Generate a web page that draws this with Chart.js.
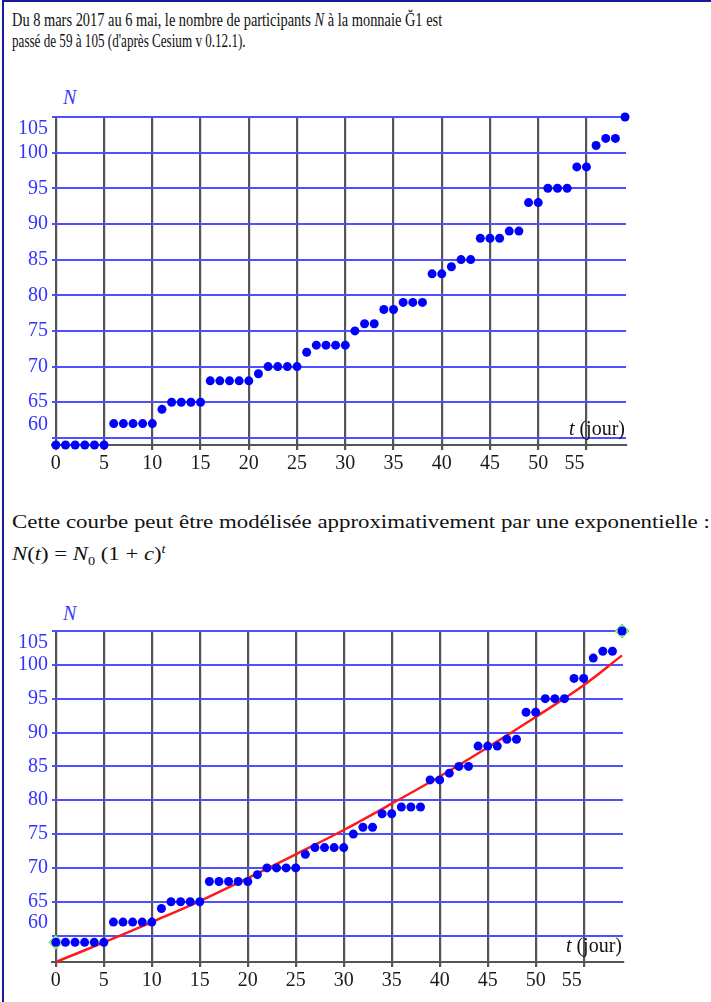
<!DOCTYPE html>
<html>
<head>
<meta charset="utf-8">
<script src="https://cdn.jsdelivr.net/npm/chart.js@4.4.1/dist/chart.umd.min.js"></script>
<style>
  body { margin: 0; background: #fff; }
  #page { position: relative; width: 711px; height: 1002px; overflow: hidden; background: #fff;
          font-family: "Liberation Serif", "Times New Roman", serif; color: #111; }
  .frame-l { position: absolute; left: 2px; top: 0; width: 2px; height: 1002px; background: #1a1a96; }
  .frame-t { position: absolute; left: 2px; top: 0; width: 709px; height: 2px; background: #1a1a96; }
  .line { position: absolute; left: 12px; font-size: 19px; line-height: 22px; white-space: nowrap; transform-origin: 0 0; }
  .lbl { position: absolute; font-size: 20px; line-height: 20px; white-space: nowrap; }
  .axN { color: #3b3bff; font-style: italic; left: 63px; }
  .axT { color: #111; }
  canvas { position: absolute; left: 0; }
</style>
</head>
<body>
<div id="page">
  <div class="frame-l"></div>
  <div class="frame-t"></div>

  <div class="line" data-w="430" style="top:9px">Du 8 mars 2017 au 6 mai, le nombre de participants <i>N</i> à la monnaie Ğ1 est</div>
  <div class="line" data-w="234" style="top:30px">passé de 59 à 105 (d'après Cesium v 0.12.1).</div>

  <div class="lbl axN" style="top:87px">N</div>
  <canvas id="chartRaw" width="640" height="380" style="top:100px"></canvas>
  <div class="lbl axT" style="top:418px;right:86px"><i>t</i> (jour)</div>

  <div class="line" data-w="698" style="top:511px">Cette courbe peut être modélisée approximativement par une exponentielle :</div>
  <div class="line" data-w="153" style="top:538px"><i>N</i>(<i>t</i>) = <i>N</i><sub style="font-size:12px">0</sub> (1 + <i>c</i>)<sup style="font-size:12px"><i>t</i></sup></div>

  <div class="lbl axN" style="top:603px">N</div>
  <canvas id="chartFit" width="640" height="385" style="top:615px"></canvas>
  <div class="lbl axT" style="top:935px;right:89px"><i>t</i> (jour)</div>
</div>

<script>
// participants N, one value per day t = 0 .. 59
const participants = [59, 59, 59, 59, 59, 59, 62, 62, 62, 62,
                      62, 64, 65, 65, 65, 65, 68, 68, 68, 68,
                      68, 69, 70, 70, 70, 70, 72, 73, 73, 73,
                      73, 75, 76, 76, 78, 78, 79, 79, 79, 83,
                      83, 84, 85, 85, 88, 88, 88, 89, 89, 93,
                      93, 95, 95, 95, 98, 98, 101, 102, 102, 105];

// red model curve, read at a few days
const fitT = [0, 5, 10, 15, 20, 25, 30, 35, 40, 45, 50, 55, 59];
const fitN = [56.1, 59.0, 62.0, 65.1, 68.5, 72.0, 75.6, 79.5, 83.5, 87.8, 92.3, 97.0, 101.4];

// green markers (first and last day)
const markT = [0, 59];
const markN = [59, 105];

const xTicks = [0, 5, 10, 15, 20, 25, 30, 35, 40, 45, 50, 55];
const yTicks = [60, 65, 70, 75, 80, 85, 90, 95, 100, 105];

const SERIF = '"Liberation Serif", "Times New Roman", serif';

// fit paragraph lines to the width they take in the picture
document.querySelectorAll('.line[data-w]').forEach(el => {
  const w = el.offsetWidth;
  el.style.transform = 'scaleX(' + (Number(el.dataset.w) / w) + ')';
});

// tick labels drawn by hand so a few can be nudged like in the picture
const yLabelShift = { 105: 12, 60: -13 };
const xLabelShift = { 55: -12 };

const tickText = {
  id: 'tickText',
  afterDraw(chart) {
    const ctx = chart.ctx, xs = chart.scales.x, ys = chart.scales.y;
    ctx.save();
    ctx.font = '20px ' + SERIF;
    ctx.textBaseline = 'middle';
    ctx.fillStyle = '#3333ff';
    ctx.textAlign = 'right';
    yTicks.forEach(v => ctx.fillText(String(v), xs.left - 4, ys.getPixelForValue(v) + (yLabelShift[v] || 0)));
    ctx.fillStyle = '#1a1a1a';
    ctx.textAlign = 'center';
    xTicks.forEach(v => ctx.fillText(String(v), xs.getPixelForValue(v) + (xLabelShift[v] || 0), ys.bottom + 19));
    ctx.restore();
  }
};

function scales(yMin, xAxisHeight) {
  return {
    x: {
      type: 'linear', min: -0.4, max: 59.1,
      afterBuildTicks: s => { s.ticks = xTicks.map(v => ({ value: v })); },
      afterFit: s => { s.height = xAxisHeight; },
      grid: { color: '#555', lineWidth: 2.2, drawTicks: true, tickLength: 5, tickColor: '#555' },
      border: { display: true, color: '#555', width: 2 },
      ticks: { display: false }
    },
    y: {
      type: 'linear', min: yMin, max: 105,
      afterBuildTicks: s => { s.ticks = yTicks.map(v => ({ value: v })); },
      afterFit: s => { s.width = 52; },
      grid: { color: '#4f4fff', lineWidth: 2, drawTicks: false },
      border: { display: false },
      ticks: { display: false }
    }
  };
}

const dots = participants.map((n, t) => ({ x: t, y: n }));

function baseOptions(yMin, xAxisHeight, padding) {
  return {
    responsive: false,
    animation: false,
    events: [],
    layout: { padding },
    plugins: { legend: { display: false }, tooltip: { enabled: false } },
    scales: scales(yMin, xAxisHeight)
  };
}

new Chart(document.getElementById('chartRaw'), {
  type: 'scatter',
  data: {
    datasets: [{
      data: dots,
      clip: false,
      pointRadius: 4.5,
      pointBackgroundColor: '#0000ff',
      pointBorderWidth: 0
    }]
  },
  options: baseOptions(59, 35, { top: 17, right: 14, left: 0, bottom: 0 }),
  plugins: [tickText]
});

new Chart(document.getElementById('chartFit'), {
  type: 'scatter',
  data: {
    datasets: [
      {
        order: 0,
        data: dots,
        clip: false,
        pointRadius: 4.5,
        pointBackgroundColor: '#0000ff',
        pointBorderWidth: 0
      },
      {
        order: 1,
        data: fitT.map((t, i) => ({ x: t, y: fitN[i] })),
        showLine: true,
        borderColor: '#ff1a1a',
        borderWidth: 2.5,
        tension: 0.4,
        pointRadius: 0
      },
      {
        order: 2,
        data: markT.map((t, i) => ({ x: t, y: markN[i] })),
        clip: false,
        pointStyle: 'rectRot',
        pointRadius: 7,
        pointBackgroundColor: '#a8ff8c',
        pointBorderColor: '#5fd35f',
        pointBorderWidth: 1
      }
    ]
  },
  options: baseOptions(56.1, 38, { top: 16, right: 17, left: 0, bottom: 0 }),
  plugins: [tickText]
});
</script>
</body>
</html>
